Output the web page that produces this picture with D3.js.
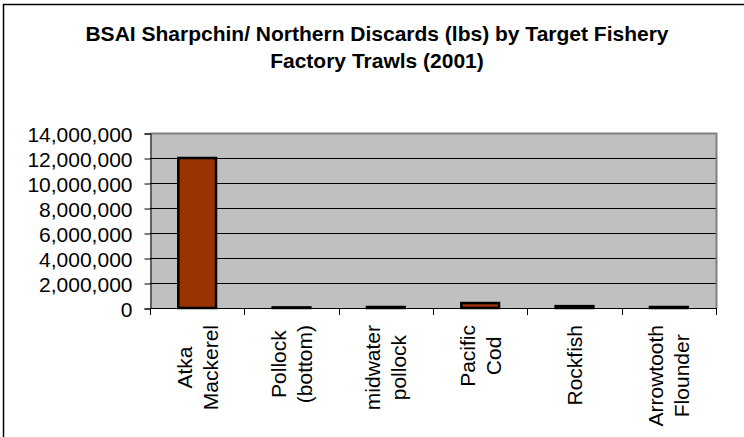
<!DOCTYPE html>
<html>
<head>
<meta charset="utf-8">
<script src="https://cdn.jsdelivr.net/npm/d3@7"></script>
<style>
  body { margin: 0; background: #fff; }
  text { font-family: Arial, "Liberation Sans", sans-serif; fill: #000; }
</style>
</head>
<body>
<svg id="chart" width="744" height="437"></svg>
<script>
// Data
var categories = [["Atka", "Mackerel"], ["Pollock", "(bottom)"], ["midwater", "pollock"],
                  ["Pacific", "Cod"], ["Rockfish"], ["Arrowtooth", "Flounder"]];
var discards = [12000000, 50000, 80000, 400000, 150000, 80000];
var yTicks = [0, 2000000, 4000000, 6000000, 8000000, 10000000, 12000000, 14000000];
var titleLines = ["BSAI Sharpchin/ Northern Discards (lbs) by Target Fishery",
                  "Factory Trawls (2001)"];

var svg = d3.select("#chart");

// outer border of the chart
svg.append("rect")
  .attr("x", 3.5).attr("y", 4.5)
  .attr("width", 900).attr("height", 900)
  .style("fill", "none")
  .style("stroke", "#000")
  .style("stroke-width", 1.5);

// Title
svg.selectAll(".title")
  .data(titleLines)
  .enter().append("text")
  .attr("class", "title")
  .attr("x", 377)
  .attr("y", function (d, i) { return 41 + i * 27; })
  .attr("text-anchor", "middle")
  .style("font-size", "21px")
  .style("font-weight", "bold")
  .text(function (d) { return d; });

// plot area
var pLeft = 150, pRight = 716, pTop = 133, pBottom = 308;

var x = d3.scaleBand()
  .domain(d3.range(categories.length))
  .range([pLeft, pRight])
  .paddingInner(0.6)
  .paddingOuter(0.3);

var y = d3.scaleLinear()
  .domain([0, 14000000])
  .range([pBottom, pTop]);

svg.append("rect")
  .attr("x", pLeft).attr("y", pTop)
  .attr("width", pRight - pLeft).attr("height", pBottom - pTop)
  .style("fill", "#c0c0c0");

// gridlines
svg.selectAll(".grid")
  .data(yTicks.slice(1, -1))
  .enter().append("line")
  .attr("x1", pLeft).attr("x2", pRight)
  .attr("y1", function (d) { return y(d) + 0.5; })
  .attr("y2", function (d) { return y(d) + 0.5; })
  .style("stroke", "#000")
  .style("stroke-width", 1);

// gray top/right border
svg.append("path")
  .attr("d", "M" + pLeft + "," + (pTop + 0.5) + "H" + (pRight + 0.5) + "V" + pBottom)
  .style("fill", "none")
  .style("stroke", "#808080")
  .style("stroke-width", 2);

// Y axis
var yAxis = svg.append("g")
  .attr("transform", "translate(" + (pLeft + 0.5) + ",0.5)")
  .call(d3.axisLeft(y).tickValues(yTicks).tickSize(6).tickPadding(12)
        .tickFormat(d3.format(",")));
yAxis.select(".domain").style("stroke", "#000");
yAxis.selectAll(".tick line").style("stroke", "#000");
yAxis.selectAll("text")
  .style("font-size", "21px")
  .style("font-family", "Arial, 'Liberation Sans', sans-serif")
  .attr("dy", "0.36em");

// X axis with ticks between categories
var step = x.step();
var xTickPos = d3.range(categories.length + 1).map(function (i) { return pLeft + i * step; });
svg.append("line")
  .attr("x1", pLeft).attr("x2", pRight + 1)
  .attr("y1", pBottom + 0.5).attr("y2", pBottom + 0.5)
  .style("stroke", "#000");
svg.selectAll(".xtick")
  .data(xTickPos)
  .enter().append("line")
  .attr("x1", function (d) { return Math.round(d) + 0.5; })
  .attr("x2", function (d) { return Math.round(d) + 0.5; })
  .attr("y1", pBottom).attr("y2", pBottom + 7)
  .style("stroke", "#000");

// Bars
svg.selectAll(".bar")
  .data(discards)
  .enter().append("rect")
  .attr("class", "bar")
  .attr("x", function (d, i) { return x(i); })
  .attr("y", function (d) { return y(d); })
  .attr("width", x.bandwidth())
  .attr("height", function (d) { return pBottom - y(d); })
  .style("fill", "#993300")
  .style("stroke", "#000")
  .style("stroke-width", 2.5);

// Category labels, rotated, lines centred, end of text near the axis
var labels = svg.selectAll(".cat")
  .data(categories)
  .enter().append("g")
  .attr("class", "cat")
  .attr("transform", function (d, i) { return "translate(" + (x(i) + x.bandwidth() / 2) + ",325) rotate(-90)"; });

labels.each(function (lines) {
  var g = d3.select(this);
  var t = g.append("text")
    .attr("text-anchor", "middle")
    .style("font-size", "21px");
  var n = lines.length;
  lines.forEach(function (s, j) {
    t.append("tspan")
      .attr("x", 0)
      .attr("y", (j - (n - 1) / 2) * 26 + 7.5)
      .text(s);
  });
  var maxLen = d3.max(t.selectAll("tspan").nodes(), function (nd) { return nd.getComputedTextLength(); });
  t.selectAll("tspan").attr("x", -maxLen / 2);
});
</script>
</body>
</html>
